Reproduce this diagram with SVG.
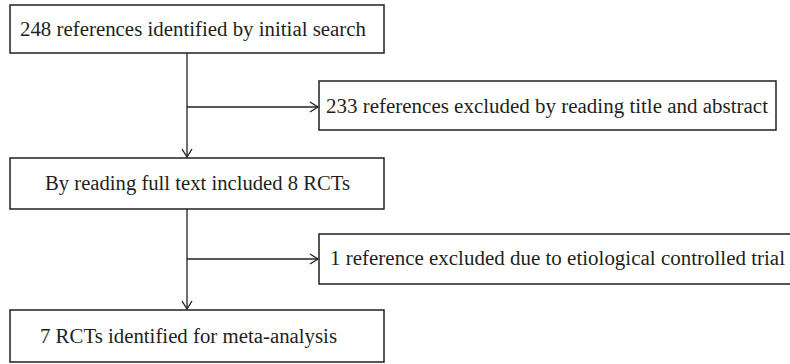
<svg xmlns="http://www.w3.org/2000/svg" width="790" height="364" viewBox="0 0 790 364">
<style>
.box{fill:#fff;stroke:#231f20;stroke-width:1.5}
.t{font-family:"Liberation Serif","Times New Roman",serif;font-size:20px;fill:#231f20}
.ln{fill:none;stroke:#231f20;stroke-width:1.3}
</style>
<defs>
<marker id="ah" markerWidth="12" markerHeight="12" refX="9" refY="6" orient="auto" markerUnits="userSpaceOnUse">
<path d="M1,1 L9,6 L1,11" fill="none" stroke="#231f20" stroke-width="1.3"/>
</marker>
</defs>
<g id="connectors">
<line class="ln" x1="187" y1="53" x2="187" y2="157" marker-end="url(#ah)"/>
<line class="ln" x1="187" y1="107" x2="318" y2="107" marker-end="url(#ah)"/>
<line class="ln" x1="187" y1="209" x2="187" y2="309" marker-end="url(#ah)"/>
<line class="ln" x1="187" y1="259" x2="318" y2="259" marker-end="url(#ah)"/>
</g>
<g id="n1">
<rect class="box" x="10" y="5" width="374" height="48"/>
<text class="t" x="20" y="36" textLength="346" lengthAdjust="spacingAndGlyphs">248 references identified by initial search</text>
</g>
<g id="n2">
<rect class="box" x="319" y="81" width="457" height="49"/>
<text class="t" x="326" y="113" textLength="442" lengthAdjust="spacingAndGlyphs">233 references excluded by reading title and abstract</text>
</g>
<g id="n3">
<rect class="box" x="10" y="158" width="374" height="51"/>
<text class="t" x="45" y="190" textLength="305" lengthAdjust="spacingAndGlyphs">By reading full text included 8 RCTs</text>
</g>
<g id="n4">
<rect class="box" x="319" y="234" width="480" height="50"/>
<text class="t" x="330" y="265" textLength="455" lengthAdjust="spacingAndGlyphs">1 reference excluded due to etiological controlled trial</text>
</g>
<g id="n5">
<rect class="box" x="10" y="310" width="374" height="52"/>
<text class="t" x="40" y="343" textLength="297" lengthAdjust="spacingAndGlyphs">7 RCTs identified for meta-analysis</text>
</g>
</svg>
